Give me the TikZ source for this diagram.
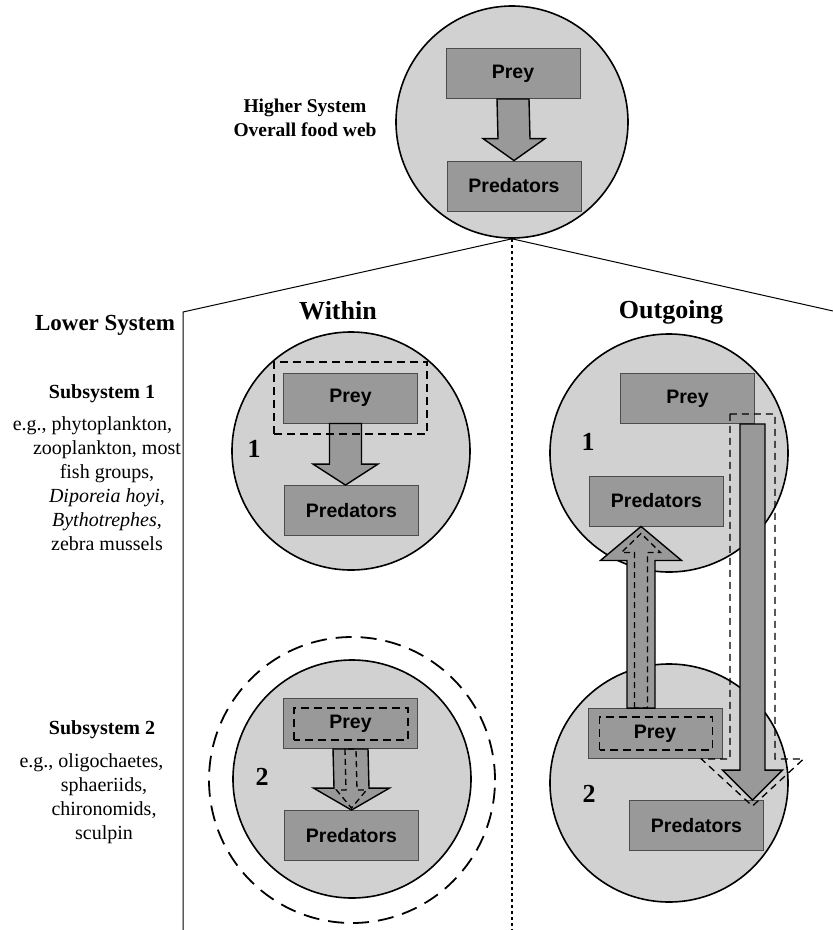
\documentclass[tikz,border=0pt]{standalone}
\usepackage{fontspec}
\setmainfont{Liberation Serif}
\newfontfamily\boxfont{Liberation Sans}
\usetikzlibrary{calc,fit}

\definecolor{webfill}{gray}{0.82}
\definecolor{boxfill}{gray}{0.6}
\definecolor{boxline}{gray}{0.3}

\tikzset{
  web/.style={circle, draw=black, line width=1.6pt, fill=webfill, inner sep=0pt, minimum size=238pt},
  ring/.style={circle, draw=black, line width=1.8pt, dash pattern=on 16pt off 9pt, inner sep=0pt, minimum size=286pt},
  troph/.style={rectangle, draw=boxline, line width=0.9pt, fill=boxfill, minimum width=134pt,
    minimum height=50pt, inner sep=0pt, font=\boxfont\bfseries\fontsize{19.5}{22}\selectfont},
  blockfill/.style={draw=black, line width=1.4pt, fill=boxfill, line join=miter},
  blockdash/.style={draw=black, line width=1.3pt, dash pattern=on 6pt off 4pt},
  selbox/.style={draw=black, line width=1.8pt, dash pattern=on 8pt off 5pt},
  outline/.style={draw=black, line width=1.3pt, dash pattern=on 7pt off 5pt},
  frame/.style={draw=black, line width=1pt},
  divider/.style={draw=black, line width=2.2pt, dash pattern=on 3pt off 3pt},
  subnum/.style={font=\bfseries\fontsize{26}{30}\selectfont, inner sep=0pt},
  colhead/.style={font=\bfseries\fontsize{26}{30}\selectfont, inner sep=0pt, anchor=base},
  subtitle/.style={font=\bfseries\fontsize{20}{24}\selectfont, inner sep=0pt, anchor=base},
  subtext/.style={font=\fontsize{20}{24}\selectfont, inner sep=0pt, align=center, anchor=north}
}

% block arrow: [style]{start}{tip}{shaft half width}{head half width}{head length}
\newcommand{\fatarrow}[6][blockfill]{%
  \draw[#1] ($(#2)+(-#4,0)$) -- ($(#3)+(-#4,{-(#6)})$) -- ($(#3)+(-#5,{-(#6)})$) -- (#3)
    -- ($(#3)+(#5,{-(#6)})$) -- ($(#3)+(#4,{-(#6)})$) -- ($(#2)+(#4,0)$) -- cycle;}

\begin{document}
\begin{tikzpicture}[x=1pt, y=-1pt]
  \useasboundingbox (0,0) rectangle (833,930);

  % circles
  \node[web, minimum size=232pt] (hiweb) at (512,122) {};
  \node[web] (w1web) at (351,451) {};
  \node[web] (w2web) at (352,779) {};
  \node[ring] (w2ring) at (352,780) {};
  \node[web] (o1web) at (669,453) {};
  \node[web] (o2web) at (669,783) {};

  % frame of the lower system
  \coordinate (lotop) at (183,312);
  \coordinate (lobot) at (183,930);
  \coordinate (rtend) at (833,311);
  \coordinate (divbot) at (512,930);
  \draw[frame] (lobot) -- (lotop) -- (hiweb.south) -- (rtend);
  \draw[divider] (hiweb.south) -- (divbot);

  % prey and predators
  \node[troph] (hiprey) at (513,73.5) {Prey};
  \node[troph] (hipred) at (514,186) {Predators};
  \node[troph] (w1prey) at (350.5,398) {Prey};
  \node[troph] (w1pred) at (351.5,510.5) {Predators};
  \node[troph] (w2prey) at (350.5,723.5) {Prey};
  \node[troph] (w2pred) at (351.5,835.5) {Predators};
  \node[troph] (o1prey) at (687.5,398.5) {Prey};
  \node[troph] (o1pred) at (656.5,501) {Predators};
  \node[troph] (o2prey) at (655,733.5) {Prey};
  \node[troph] (o2pred) at (696.5,825.5) {Predators};

  % flows
  \fatarrow{hiprey.south}{hipred.north}{16}{31}{22}
  \coordinate (w1a) at ($(w1prey.south)+(-5,0)$);
  \coordinate (w1b) at (w1a |- w1pred.north);
  \fatarrow{w1a}{w1b}{16}{32.5}{21}
  \fatarrow{w2prey.south}{w2pred.north}{17.5}{38}{22}
  \coordinate (oupa) at ($(o2prey.north)+(-14,0)$);
  \coordinate (oupb) at (oupa |- o1pred.south);
  \fatarrow{oupa}{oupb}{14}{40.5}{-34}
  \coordinate (odna) at ($(o1prey.south east)+(-2.5,0)$);
  \coordinate (odnb) at (odna |- o2pred.north);
  \fatarrow{odna}{odnb}{12.5}{30}{30}

  % dashed selections
  \node[selbox, fit=(w1prey), inner xsep=9pt, inner ysep=10.5pt] (w1sel) {};
  \draw[selbox] ($(w2prey.south west)+(11,-9)$) rectangle ($(w2prey.north east)+(-10,10)$);
  \draw[selbox] ($(o2prey.south west)+(12,-9)$) rectangle ($(o2prey.north east)+(-10,9)$);
  \coordinate (w2c) at ($(w2pred.north)+(0,-2)$);
  \fatarrow[blockdash]{w2prey.south}{w2c}{5.5}{15}{18}
  \coordinate (oupc) at ($(oupb)+(0,7)$);
  \fatarrow[blockdash]{oupa}{oupc}{6.5}{19.5}{-19}
  \coordinate (odnc) at ($(odna)+(0,-10)$);
  \coordinate (odnd) at ($(odnb)+(0,6)$);
  \fatarrow[outline]{odnc}{odnd}{22.5}{51}{47}

  % subsystem numbers
  \node[subnum] (w1num) at (254,449) {1};
  \node[subnum] (w2num) at (262,777) {2};
  \node[subnum] (o1num) at (588,442) {1};
  \node[subnum] (o2num) at (589,794) {2};

  % labels
  \node[font=\bfseries\fontsize{19.5}{24}\selectfont, align=center, inner sep=0pt] (hilabel) at (305,118)
    {Higher System\\Overall food web};
  \node[font=\bfseries\fontsize{23}{27}\selectfont, inner sep=0pt, anchor=base] (lolabel) at (105,330) {Lower System};
  \node[colhead] (within) at (338,319) {Within};
  \node[colhead] (outgoing) at (671,318) {Outgoing};

  \node[subtitle] (sub1) at (102,398) {Subsystem 1};
  \node[subtext] (sub1txt) at (107,416.3) {e.g., phytoplankton,\hspace*{29pt}\\zooplankton, most\\fish groups,\\
    \textit{Diporeia hoyi},\\\textit{Bythotrephes},\\zebra mussels};
  \node[subtitle] (sub2) at (102,734) {Subsystem 2};
  \node[subtext] (sub2txt) at (104,753.3) {e.g., oligochaetes,\hspace*{25pt}\\sphaeriids,\\chironomids,\\sculpin};
\end{tikzpicture}
\end{document}
